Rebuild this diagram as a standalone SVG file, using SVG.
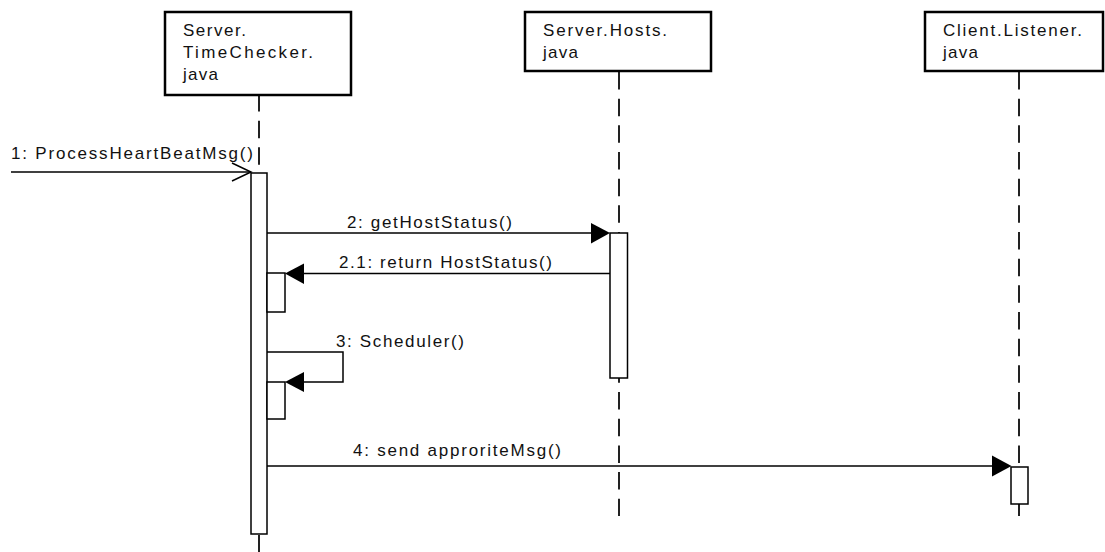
<svg xmlns="http://www.w3.org/2000/svg" width="1105" height="552" viewBox="0 0 1105 552">
<style>
.obj{fill:#fff;stroke:#000;stroke-width:2.5}
.life{stroke:#222;stroke-width:2;stroke-dasharray:17.5 9.17;fill:none}
.act{fill:#fff;stroke:#000;stroke-width:1.5}
.msg{stroke:#000;stroke-width:1.5;fill:none}
.head{fill:#000;stroke:none}
text{font-family:"Liberation Sans",Arial,sans-serif;font-size:17px;fill:#111;lengthAdjust:spacing}
</style>
<rect width="1105" height="552" fill="#fff"/>
<g id="lifelines">
<line class="life" x1="259" y1="94" x2="259" y2="173"/>
<line class="life" x1="259" y1="535" x2="259" y2="560"/>
<line class="life" x1="619" y1="72" x2="619" y2="516"/>
<line class="life" x1="1019" y1="72" x2="1019" y2="516"/>
</g>
<g id="obj-timechecker">
<rect class="obj" x="165" y="12" width="186" height="83"/>
<text x="183" y="36" textLength="63" lengthAdjust="spacing">Server.</text>
<text x="183" y="58" textLength="130" lengthAdjust="spacing">TimeChecker.</text>
<text x="183" y="80" textLength="35" lengthAdjust="spacing">java</text>
</g>
<g id="obj-hosts">
<rect class="obj" x="525" y="12" width="186" height="59"/>
<text x="543" y="36" textLength="124" lengthAdjust="spacing">Server.Hosts.</text>
<text x="543" y="58" textLength="35" lengthAdjust="spacing">java</text>
</g>
<g id="obj-listener">
<rect class="obj" x="925" y="12" width="178" height="59"/>
<text x="943" y="36" textLength="139" lengthAdjust="spacing">Client.Listener.</text>
<text x="943" y="58" textLength="35" lengthAdjust="spacing">java</text>
</g>
<g id="activations">
<rect class="act" x="251" y="173" width="16" height="361"/>
<rect class="act" x="267" y="273" width="18" height="39"/>
<rect class="act" x="267" y="382" width="18" height="37"/>
<rect class="act" x="610" y="233" width="17.5" height="145"/>
<rect class="act" x="1011" y="467" width="17" height="37"/>
</g>
<g id="connectors">
<line class="msg" x1="11" y1="172" x2="251" y2="172"/>
<polyline class="msg" points="232,163 251,172 232,181"/>
<line class="msg" x1="267" y1="233" x2="592" y2="233"/>
<polygon class="head" points="591,223 610,233 591,243.5"/>
<line class="msg" x1="610" y1="273.5" x2="303" y2="273.5"/>
<polygon class="head" points="304,263.5 285,273.5 304,284"/>
<polyline class="msg" points="267,352 343,352 343,382 303,382"/>
<polygon class="head" points="304,372 285,382 304,392"/>
<line class="msg" x1="267" y1="466" x2="993" y2="466"/>
<polygon class="head" points="992,455.5 1011.5,466 992,476.5"/>
</g>
<g id="labels">
<text x="11" y="159" textLength="242" lengthAdjust="spacing">1: ProcessHeartBeatMsg()</text>
<text x="347" y="228" textLength="165" lengthAdjust="spacing">2: getHostStatus()</text>
<text x="339" y="268" textLength="213" lengthAdjust="spacing">2.1: return HostStatus()</text>
<text x="336" y="347" textLength="128" lengthAdjust="spacing">3: Scheduler()</text>
<text x="353" y="456" textLength="208" lengthAdjust="spacing">4: send approriteMsg()</text>
</g>
</svg>
